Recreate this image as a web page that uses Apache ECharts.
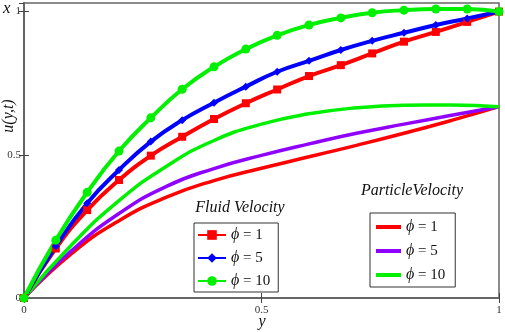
<!DOCTYPE html>
<html><head><meta charset="utf-8">
<script src="https://cdn.jsdelivr.net/npm/echarts@6/dist/echarts.min.js"></script>
<style>html,body{margin:0;padding:0;background:#fff}#c{width:505px;height:332px}</style>
</head><body><div id="c"></div>
<script>
// Fluid velocity (markers at y = k/15)
const xFluid = [0, 0.067, 0.133, 0.2, 0.267, 0.333, 0.4, 0.467, 0.533, 0.6, 0.667, 0.733, 0.8, 0.867, 0.933, 1];
const fluidPhi1  = [0, 0.173, 0.307, 0.412, 0.497, 0.563, 0.625, 0.680, 0.728, 0.775, 0.813, 0.854, 0.895, 0.929, 0.964, 1.0];
const fluidPhi5  = [0, 0.181, 0.331, 0.447, 0.546, 0.621, 0.682, 0.738, 0.790, 0.828, 0.866, 0.898, 0.926, 0.953, 0.976, 1.0];
const fluidPhi10 = [0, 0.202, 0.369, 0.513, 0.629, 0.729, 0.807, 0.869, 0.917, 0.953, 0.978, 0.996, 1.005, 1.009, 1.009, 1.0];
// Particle velocity
const xParticle = [0, 0.1, 0.2, 0.3, 0.4, 0.5, 0.6, 0.7, 0.8, 0.9, 1];
const partPhi1  = [0, 0.155, 0.27, 0.352, 0.41, 0.453, 0.493, 0.533, 0.575, 0.62, 0.668];
const partPhi5  = [0, 0.165, 0.295, 0.39, 0.452, 0.498, 0.538, 0.575, 0.607, 0.638, 0.668];
const partPhi10 = [0, 0.185, 0.34, 0.46, 0.55, 0.607, 0.643, 0.664, 0.673, 0.674, 0.668];
const xTicks = ['0', '0.5', '1'];
const yTicks = ['0', '0.5', '1'];
const legendLabels = {fl1:'1', fl5:'5', fl10:'10', pa1:'1', pa5:'5', pa10:'10'};

const pairs = (xs, ys) => xs.map((x, i) => [x, ys[i]]);
const SERIF = "'Liberation Serif','DejaVu Serif',serif";
const frame = '#666';
const RED = '#ff0000', BLUE = '#0000ff', GREEN = '#00f000', PURPLE = '#9000ff';

const chart = echarts.init(document.getElementById('c'));
const fluid = (name, ys, color, sym, size) => ({
  name, type: 'line', data: pairs(xFluid, ys), smooth: true, z: 3,
  symbol: sym, symbolSize: size, showSymbol: true,
  lineStyle: {color, width: 4}, itemStyle: {color}, emphasis: {disabled: true}
});
const particle = (name, ys, color) => ({
  name, type: 'line', data: pairs(xParticle, ys), smooth: true, z: 2,
  symbol: 'none', lineStyle: {color, width: 3.5}, itemStyle: {color}, emphasis: {disabled: true}
});
const legendText = {
  fontFamily: SERIF, fontSize: 15, color: '#111',
  rich: {i: {fontFamily: SERIF, fontStyle: 'italic', fontSize: 16, color: '#111'},
         n: {fontFamily: SERIF, fontSize: 15, color: '#111'}}
};
const fmt = n => '{i|ϕ}{n| = ' + legendLabels[n] + '}';

chart.setOption({
  animation: false,
  grid: {left: 24, right: 6, top: 3, bottom: 34, show: true, borderColor: frame, borderWidth: 1.5},
  xAxis: [
    {type: 'value', min: 0, max: 1, interval: 0.5, position: 'bottom',
     axisLine: {lineStyle: {color: frame, width: 2}}, splitLine: {show: false},
     axisTick: {inside: true, length: 5, lineStyle: {color: '#444'}},
     axisLabel: {fontFamily: SERIF, fontSize: 11, color: '#333', margin: 7,
       formatter: v => v === 0 ? xTicks[0] : v === 0.5 ? xTicks[1] : v === 1 ? xTicks[2] : ''}},
    {type: 'value', min: 0, max: 1, interval: 0.5, position: 'top',
     axisLine: {lineStyle: {color: frame, width: 1.5}}, splitLine: {show: false},
     axisTick: {inside: true, length: 5, lineStyle: {color: '#444'}}, axisLabel: {show: false}}
  ],
  yAxis: [
    {type: 'value', min: 0, max: 1.03, interval: 0.5, position: 'left',
     axisLine: {show: true, lineStyle: {color: frame, width: 2}}, splitLine: {show: false},
     axisTick: {show: true, inside: true, length: 5, lineStyle: {color: '#444'}},
     axisLabel: {fontFamily: SERIF, fontSize: 11, color: '#333', margin: 3, showMaxLabel: false,
       formatter: v => v === 0 ? yTicks[0] : v === 0.5 ? yTicks[1] : v === 1 ? yTicks[2] : ''}},
    {type: 'value', min: 0, max: 1.03, interval: 0.5, position: 'right',
     axisLine: {show: true, lineStyle: {color: frame, width: 1.5}}, splitLine: {show: false},
     axisTick: {show: true, inside: true, length: 5, lineStyle: {color: '#444'}}, axisLabel: {show: false}}
  ],
  legend: [
    {data: ['fl1', 'fl5', 'fl10'], orient: 'vertical', left: 194, top: 223,
     borderColor: '#333', borderWidth: 1, padding: [4, 8, 3, 3], itemGap: 7,
     itemWidth: 28, itemHeight: 12, formatter: fmt, textStyle: legendText, selectedMode: false},
    {data: ['pa1', 'pa5', 'pa10'], orient: 'vertical', left: 370, top: 213,
     borderColor: '#333', borderWidth: 1, padding: [6, 10, 4, 6], itemGap: 8,
     icon: 'rect', itemWidth: 25, itemHeight: 4, formatter: fmt, textStyle: legendText, selectedMode: false}
  ],
  series: [
    particle('pa1', partPhi1, RED),
    particle('pa5', partPhi5, PURPLE),
    particle('pa10', partPhi10, GREEN),
    fluid('fl1', fluidPhi1, RED, 'rect', 8),
    fluid('fl5', fluidPhi5, BLUE, 'diamond', 8),
    fluid('fl10', fluidPhi10, GREEN, 'circle', 9)
  ],
  graphic: [
    {type: 'text', left: 3, top: 0, style: {text: 'x', font: "italic 17px " + SERIF, fill: '#111'}},
    {type: 'text', x: 9, y: 116, rotation: Math.PI / 2,
     style: {text: 'u(y,t)', font: "italic 16px " + SERIF, fill: '#111', align: 'center', verticalAlign: 'middle'}},
    {type: 'text', x: 262, y: 322, style: {text: 'y', font: "italic 16px " + SERIF, fill: '#111', align: 'center', verticalAlign: 'middle'}},
    {type: 'text', x: 240, y: 208, style: {text: 'Fluid Velocity', font: "italic 16px " + SERIF, fill: '#111', align: 'center', verticalAlign: 'middle'}},
    {type: 'text', x: 412, y: 191, style: {text: 'ParticleVelocity', font: "italic 16px " + SERIF, fill: '#111', align: 'center', verticalAlign: 'middle'}}
  ]
});
</script></body></html>
